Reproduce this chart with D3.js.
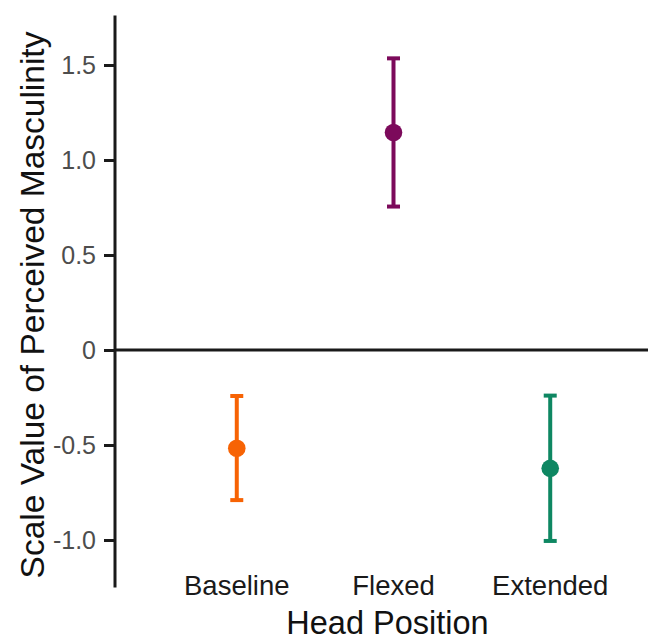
<!DOCTYPE html>
<html><head><meta charset="utf-8">
<script src="https://cdn.jsdelivr.net/npm/d3@7"></script>
<style>body{margin:0;background:#fff}svg{display:block}text{font-family:"Liberation Sans",Arial,sans-serif}</style>
</head><body>
<svg id="chart" width="648" height="641"></svg>
<script>
const categories = ["Baseline", "Flexed", "Extended"];
const means = [-0.517, 1.145, -0.623];
const lower = [-0.79, 0.755, -1.005];
const upper = [-0.242, 1.535, -0.24];
const colors = ["#f76304", "#7c0a5b", "#0e8762"];
const yTicks = [-1.0, -0.5, 0, 0.5, 1.0, 1.5];
const yTickLabels = ["-1.0", "-0.5", "0", "0.5", "1.0", "1.5"];
const xTitle = "Head Position";
const yTitle = "Scale Value of Perceived Masculinity";

const svg = d3.select("#chart");
const axisX = 115;
const y = d3.scaleLinear().domain([-1.25, 1.76]).range([587.5, 15.6]);
const x = d3.scalePoint().domain(categories).range([axisX, 672]).padding(0.777);

// zero line
svg.append("line").attr("x1", axisX).attr("x2", 672)
  .attr("y1", y(0)).attr("y2", y(0))
  .attr("stroke", "#1a1a1a").attr("stroke-width", 3);

// y axis
const yAxis = d3.axisLeft(y).tickValues(yTicks)
  .tickFormat((d, i) => yTickLabels[i]).tickSize(11).tickPadding(8);
const gy = svg.append("g").attr("transform", `translate(${axisX},0)`).call(yAxis);
gy.select(".domain").remove();
gy.selectAll(".tick line").attr("stroke", "#1a1a1a").attr("stroke-width", 3);
gy.selectAll(".tick text").attr("fill", "#4d4d4d").style("font-size", "25px")
  .style("font-family", '"Liberation Sans",Arial,sans-serif');
svg.append("line").attr("x1", axisX).attr("x2", axisX)
  .attr("y1", y.range()[1]).attr("y2", y.range()[0])
  .attr("stroke", "#1a1a1a").attr("stroke-width", 3);

// x labels
svg.selectAll(".xlab").data(categories).enter().append("text")
  .attr("class", "xlab")
  .attr("x", d => x(d)).attr("y", 595)
  .attr("text-anchor", "middle").attr("fill", "#1a1a1a")
  .style("font-size", "27.5px").text(d => d);

// error bars
const capHalf = 6.5;
const g = svg.append("g");
categories.forEach((c, i) => {
  const cx = x(c);
  g.append("line").attr("x1", cx).attr("x2", cx)
    .attr("y1", y(upper[i])).attr("y2", y(lower[i]))
    .attr("stroke", colors[i]).attr("stroke-width", 4);
  [upper[i], lower[i]].forEach(v => {
    g.append("line").attr("x1", cx - capHalf).attr("x2", cx + capHalf)
      .attr("y1", y(v)).attr("y2", y(v))
      .attr("stroke", colors[i]).attr("stroke-width", 4);
  });
  g.append("circle").attr("cx", cx).attr("cy", y(means[i])).attr("r", 8.8)
    .attr("fill", colors[i]);
});

// titles
svg.append("text").attr("x", 387.5).attr("y", 634)
  .attr("text-anchor", "middle").attr("fill", "#111")
  .style("font-size", "32.5px").text(xTitle);
svg.append("text").attr("transform", "translate(44,305) rotate(-90)")
  .attr("text-anchor", "middle").attr("fill", "#111")
  .style("font-size", "33.5px").text(yTitle);
</script>
</body></html>
